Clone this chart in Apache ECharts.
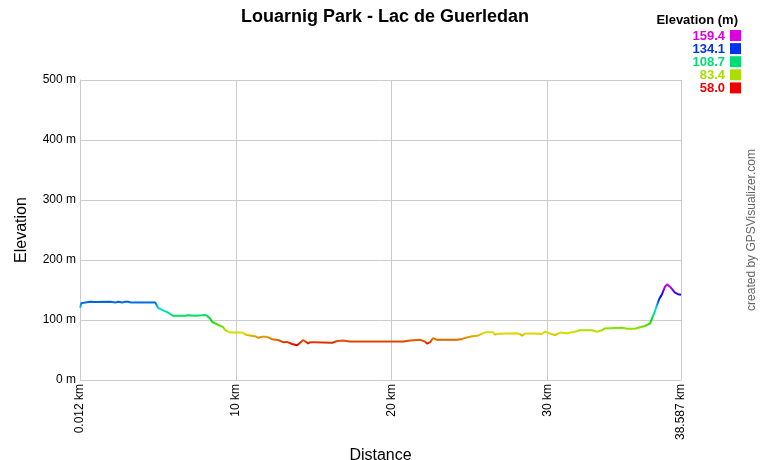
<!DOCTYPE html>
<html><head><meta charset="utf-8">
<script src="https://cdn.jsdelivr.net/npm/echarts@6/dist/echarts.min.js"></script>
<style>html,body{margin:0;padding:0;background:#fff}#c{width:760px;height:460px}</style>
</head><body><div id="c"></div>
<script>
var distanceKm = [0.012,0.08,0.2,0.65,0.97,1.94,2.26,2.45,2.71,2.9,3.09,3.29,3.86,4.83,4.89,5.02,5.34,5.6,5.79,5.98,6.75,6.94,7.39,7.84,8.03,8.16,8.36,8.48,8.87,9.19,9.32,9.51,9.64,10.41,10.73,11.24,11.44,11.69,12.01,12.34,12.72,13.04,13.3,13.62,13.94,14.13,14.33,14.45,14.65,14.78,14.9,15.1,15.22,16.19,16.51,16.89,17.34,19.27,20.74,21.19,21.83,22.16,22.28,22.48,22.67,22.93,24.21,24.53,24.85,25.17,25.56,25.88,26.01,26.52,26.65,26.78,28.06,28.25,28.38,28.57,29.02,29.67,29.86,30.18,30.5,30.82,31.27,31.78,32.11,32.87,33.2,33.52,33.71,34.8,35.12,35.63,35.96,36.28,36.6,36.73,36.86,37.05,37.18,37.37,37.56,37.69,37.88,38.2,38.4,38.587];
var elevationM = [120,128,130.5,130.5,130,130.5,129,130.5,129,130.5,130.5,129,129,129,128,120,116,113,110,107,107,108,107,108,108.5,107,102,97,91.7,88,83,80.5,79,79,75,73,70.5,72,72,68,66.7,63,63.5,60,58,62,66.7,65,61,63,62,63,62,62,65,66,64,64,64,66,67,64,60.5,63,70,67,67,68.5,71,73,74,78,79.5,79.5,75.5,77,78,76.7,74,77.5,77.5,77,80.5,77.5,75,79,78,80.5,83,83,80.5,83,86,87,85.5,85.5,88,90,94.5,103,111,125,134.5,143,155.5,159.4,155.5,145.5,143,142];
var xTickLabels = {0:'0.012 km',10:'10 km',20:'20 km',30:'30 km',38.587:'38.587 km'};
var legendValues = ['159.4','134.1','108.7','83.4','58.0'];
var legendColors = ['#dd00dd','#0033ee','#00dd77','#aadd00','#ee0000'];

var seriesData = distanceKm.map(function(d,i){return [d, elevationM[i]];});
var hueColors = [];
for (var h = 0; h <= 300; h += 15) hueColors.push('hsl(' + h + ',100%,44%)');

var graphics = [
  {type:'text', right:22, top:14, style:{text:'Elevation (m)', font:'bold 13px "Liberation Sans", Arial', fill:'#000'}}
];
legendValues.forEach(function(v,i){
  var yc = 36 + i*13.1;
  graphics.push({type:'text', right:35, top:yc-6, style:{text:v, font:'bold 13px "Liberation Sans", Arial', fill:legendColors[i]}});
  graphics.push({type:'rect', shape:{x:730, y:yc-6, width:11, height:11}, style:{fill:legendColors[i]}});
});
graphics.push({type:'text', x:752, y:230, rotation:Math.PI/2, style:{text:'created by GPSVisualizer.com', font:'12px "Liberation Sans", Arial', fill:'#666', align:'center', verticalAlign:'middle'}});

var chart = echarts.init(document.getElementById('c'), null, {renderer:'canvas'});
chart.setOption({
  animation:false,
  backgroundColor:'#fff',
  title:{text:'Louarnig Park - Lac de Guerledan', left:380, textAlign:'center', top:3,
    textStyle:{fontFamily:'"Liberation Sans", Arial', fontWeight:'bold', fontSize:18, color:'#000'}},
  grid:{left:80, right:79, top:80, bottom:80, containLabel:false, outerBoundsMode:'none'},
  visualMap:{type:'continuous', show:false, dimension:1, min:58, max:159.4, inRange:{color:hueColors}},
  xAxis:{type:'value', min:0, max:38.587, interval:10,
    name:'Distance', nameLocation:'middle', nameGap:62,
    nameTextStyle:{fontFamily:'"Liberation Sans", Arial', fontSize:16, color:'#000'},
    axisLine:{show:true, lineStyle:{color:'#ccc'}},
    axisTick:{show:false},
    axisLabel:{rotate:90, margin:4, showMaxLabel:true, showMinLabel:true,
      fontFamily:'"Liberation Sans", Arial', fontSize:12, color:'#000',
      formatter:function(v){ if (xTickLabels[v]) return xTickLabels[v]; if (Math.abs(v-38.587)<0.001) return '38.587 km'; return ''; }},
    splitLine:{show:true, lineStyle:{color:'#ccc', width:1}}
  },
  yAxis:{type:'value', min:0, max:500, interval:100,
    name:'Elevation', nameLocation:'middle', nameGap:50, nameRotate:90,
    nameTextStyle:{fontFamily:'"Liberation Sans", Arial', fontSize:16, color:'#000'},
    axisLine:{show:true, lineStyle:{color:'#ccc'}},
    axisTick:{show:false},
    axisLabel:{margin:4, fontFamily:'"Liberation Sans", Arial', fontSize:12, color:'#000', formatter:'{value} m'},
    splitLine:{show:true, lineStyle:{color:'#ccc', width:1}}
  },
  series:[{type:'line', data:seriesData, showSymbol:false, symbol:'none', lineStyle:{width:2}}],
  graphic:graphics
});
</script></body></html>
